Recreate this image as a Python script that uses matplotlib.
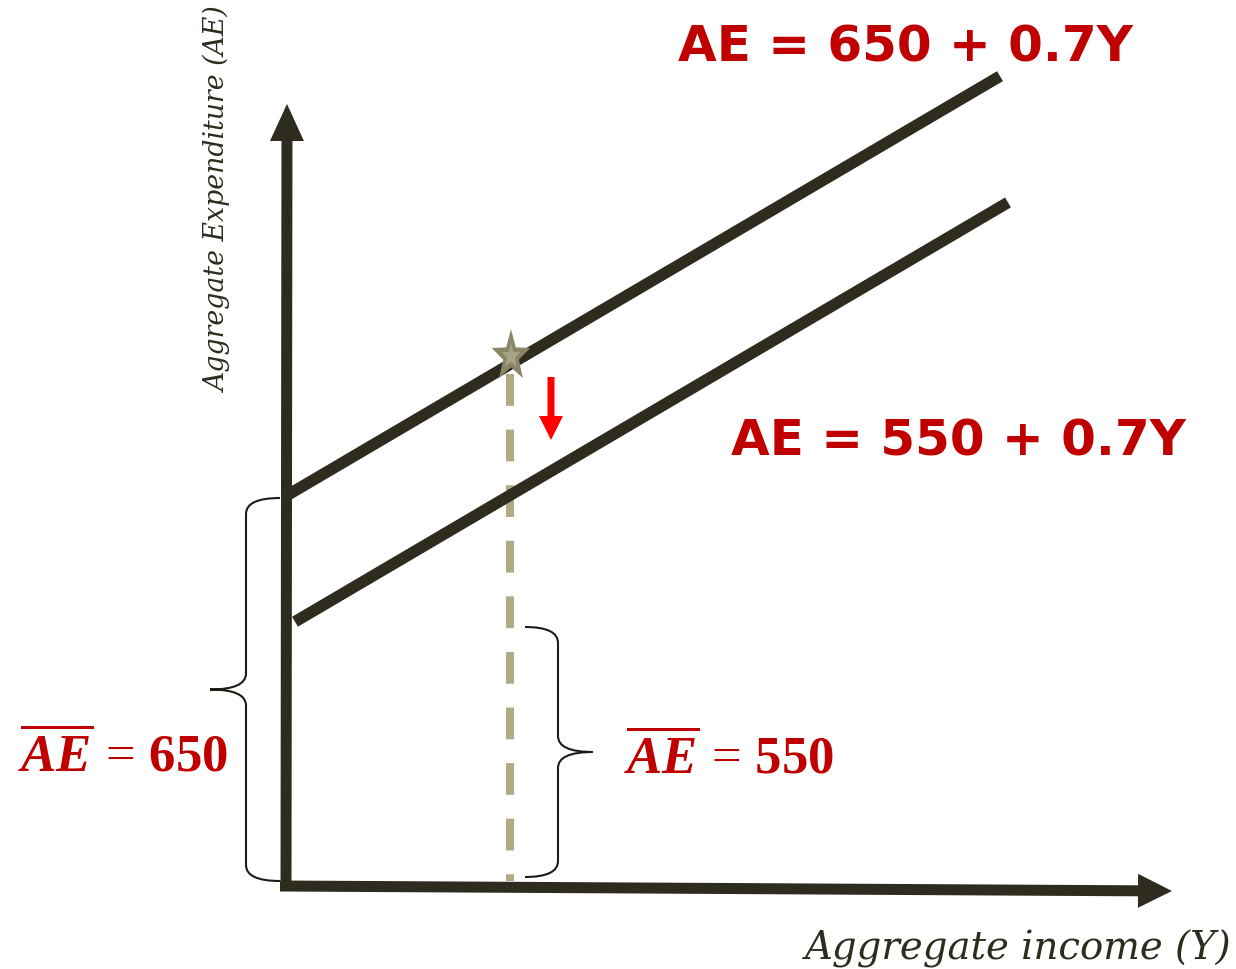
import numpy as np
import matplotlib
matplotlib.use("Agg")
import matplotlib.pyplot as plt
from matplotlib.path import Path
from matplotlib.patches import PathPatch, Polygon

plt.rcParams['mathtext.fontset'] = 'custom'
plt.rcParams['mathtext.rm'] = 'Liberation Serif'
plt.rcParams['mathtext.it'] = 'Liberation Serif:italic'
plt.rcParams['mathtext.bf'] = 'Liberation Serif:bold'
plt.rcParams['mathtext.bfit'] = 'Liberation Serif:italic:bold'

# ---- data (diagram units: horizontal = income, vertical = expenditure; schematic, not to scale)
autonomous = [650, 550]            # autonomous expenditure labels
mpc = 0.7                          # marginal propensity to consume
line_labels = ["AE = 650 + 0.7Y", "AE = 550 + 0.7Y"]
drawn_intercepts = [390, 259]      # drawn height of each intercept
drawn_slope = 0.588                # drawn slope of AE lines
line_start = [2, 9]
line_end = [714, 722]
eq_income = 224                    # initial equilibrium income position
x_label = "Aggregate income (Y)"
y_label = "Aggregate Expenditure (AE)"

DARK = '#2e2b1f'
RED = '#c00000'

fig = plt.figure(figsize=(12.36, 9.70), dpi=100)
ax = fig.add_axes([0, 0, 1, 1])
ax.set_xlim(-286, 950)
ax.set_ylim(-83, 887)
ax.axis('off')

# axes arrows
ax.arrow(0, -2, 1, 784, width=11, head_width=34, head_length=37,
         length_includes_head=True, color=DARK, lw=0, zorder=3)
ax.arrow(-6, 0, 892, -5, width=11, head_width=34, head_length=34,
         length_includes_head=True, color=DARK, lw=0, zorder=3)

# AE lines
for b, s, e in zip(drawn_intercepts, line_start, line_end):
    xs = np.array([s, e])
    ax.plot(xs, b + drawn_slope * xs, color=DARK, lw=8.3, solid_capstyle='butt', zorder=2)

# equilibrium star and dashed line
star_v = drawn_intercepts[0] + drawn_slope * eq_income + 8
ax.plot([eq_income, eq_income], [star_v - 18, 5], color='#b0aa85', lw=5.8,
        dashes=(3.95, 2.95), zorder=1)

def star(cx, cy, R, r, sx):
    ang = np.pi / 2 + np.arange(10) * np.pi / 5
    rad = np.where(np.arange(10) % 2 == 0, R, r)
    return np.column_stack([cx + sx * rad * np.cos(ang), cy + rad * np.sin(ang)])

ax.add_patch(Polygon(star(eq_income + 1, star_v, 27, 11, 0.75), closed=True,
                     color='#8a8566', zorder=4, lw=0))
ax.add_patch(Polygon(star(eq_income + 1, star_v, 13, 5.5, 0.75), closed=True,
                     color='#a7a283', zorder=5, lw=0))

# red shift arrow
ax.arrow(265, 509, 0, -63, width=7, head_width=24, head_length=24,
         length_includes_head=True, color='#ff0000', lw=0, zorder=4)

# braces
def brace(x_end, x_mid, x_tip, v_top, v_bot):
    v_tip = (v_top + v_bot) / 2
    k = 16
    verts = [(x_end, v_top), (x_mid, v_top), (x_mid, v_top - k),
             (x_mid, v_tip + k), (x_mid, v_tip), (x_tip, v_tip),
             (x_mid, v_tip), (x_mid, v_tip - k),
             (x_mid, v_bot + k), (x_mid, v_bot), (x_end, v_bot)]
    codes = [Path.MOVETO, Path.CURVE3, Path.CURVE3,
             Path.LINETO, Path.CURVE3, Path.CURVE3,
             Path.CURVE3, Path.CURVE3,
             Path.LINETO, Path.CURVE3, Path.CURVE3]
    ax.add_patch(PathPatch(Path(verts, codes), fill=False, ec='#1e1c14', lw=1.5, zorder=2))

brace(-6, -40, -76, drawn_intercepts[0] - 2, 5)
brace(239, 272, 307, drawn_intercepts[1], 9)

# equation labels
ax.text(392, 825, line_labels[0], color=RED, fontsize=36, fontweight='bold',
        family='DejaVu Sans', ha='left', va='baseline')
ax.text(445, 432, line_labels[1], color=RED, fontsize=36, fontweight='bold',
        family='DejaVu Sans', ha='left', va='baseline')

ax.text(-268, 115, r'$\overline{\mathbfit{AE}}\,=\,\mathbf{%d}$' % autonomous[0],
        color=RED, fontsize=38, ha='left', va='baseline')
ax.text(338, 113, r'$\overline{\mathbfit{AE}}\,=\,\mathbf{%d}$' % autonomous[1],
        color=RED, fontsize=38, ha='left', va='baseline')

ax.text(946, -73, x_label, color=DARK, fontsize=27.8, fontstyle='italic',
        family='DejaVu Serif', ha='right', va='baseline')
ax.text(-68, 687, y_label, color=DARK, fontsize=19.3, fontstyle='italic',
        family='DejaVu Serif', ha='center', va='center', rotation=90)

fig.savefig('out.png', dpi=100)
